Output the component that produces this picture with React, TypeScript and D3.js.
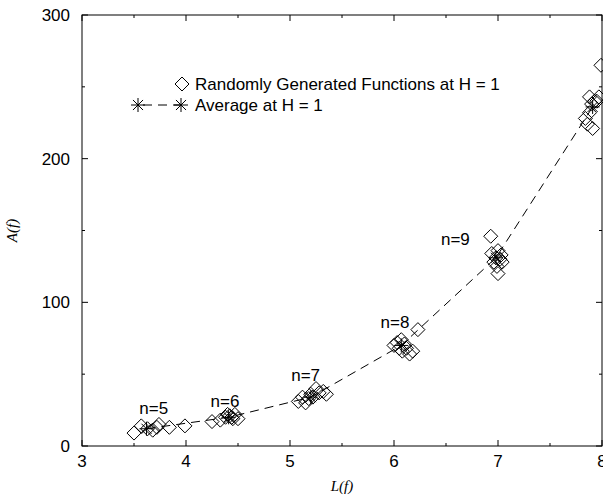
import React from "react";
import * as d3 from "d3";

const xTicks = [3, 4, 5, 6, 7, 8];
const yTicks = [0, 100, 200, 300];
const xMinor = [3.5, 4.5, 5.5, 6.5, 7.5];
const yMinor = [50, 150, 250];

// Randomly generated functions: [L(f), A(f)]
const randomL = [
  3.5, 3.57, 3.63, 3.68, 3.72, 3.74, 3.84, 3.99,
  4.25, 4.33, 4.38, 4.4, 4.42, 4.44, 4.45, 4.47, 4.5,
  5.08, 5.12, 5.15, 5.18, 5.2, 5.22, 5.25, 5.28, 5.32, 5.35,
  6.0, 6.03, 6.05, 6.07, 6.08, 6.1, 6.12, 6.15, 6.18, 6.23,
  6.93, 6.94, 6.96, 6.98, 6.99, 7.0, 7.0, 7.02, 7.03, 7.04,
  7.84, 7.86, 7.88, 7.88, 7.9, 7.91, 7.93, 7.95, 7.97, 7.99,
];
const randomA = [
  9, 14, 12, 11, 13, 15, 13, 14,
  17, 18, 20, 22, 21, 20, 19, 22, 19,
  31, 34, 30, 33, 36, 34, 40, 37, 38, 36,
  70, 72, 68, 74, 66, 71, 68, 64, 66, 81,
  146, 134, 128, 131, 125, 120, 136, 130, 133, 128,
  228, 224, 232, 243, 238, 221, 240, 240, 243, 265,
];

// Averages
const avgL = [3.62, 4.41, 5.2, 6.07, 6.98, 7.91];
const avgA = [12, 20, 34, 70, 131, 236];

const nLabels = ["n=5", "n=6", "n=7", "n=8", "n=9"];
const nLabelL = [3.69, 4.375, 5.15, 6.01, 6.59];
const nLabelA = [22, 27, 45, 82, 140];

const W = 603;
const H = 495;
const left = 82;
const right = 602;
const top = 15;
const bottom = 446;

const font = "'Liberation Sans', Arial, Helvetica, sans-serif";

function Diamond({ x, y, r }: { x: number; y: number; r: number }) {
  return (
    <path
      d={`M${x},${y - r}L${x + r},${y}L${x},${y + r}L${x - r},${y}Z`}
      fill="none"
      stroke="#000"
      strokeWidth={1}
    />
  );
}

function Star({ x, y, r }: { x: number; y: number; r: number }) {
  const d = r * 0.72;
  return (
    <path
      d={`M${x - r},${y}H${x + r}M${x},${y - r}V${y + r}M${x - d},${y - d}L${x + d},${y + d}M${x - d},${y + d}L${x + d},${y - d}`}
      stroke="#000"
      strokeWidth={1}
      fill="none"
    />
  );
}

export default function App() {
  const x = d3.scaleLinear().domain([3, 8]).range([left, right]);
  const y = d3.scaleLinear().domain([0, 300]).range([bottom, top]);
  const line = d3
    .line<number>()
    .x((_, i) => x(avgL[i]))
    .y((_, i) => y(avgA[i]));

  return (
    <svg
      width={W}
      height={H}
      style={{ position: "absolute", left: 0, top: 0, background: "#fff" }}
    >
      <rect x={0} y={0} width={W} height={H} fill="#fff" />
      {/* ticks */}
      {xTicks.map((t) => (
        <g key={"xt" + t}>
          <line x1={x(t)} x2={x(t)} y1={bottom} y2={bottom - 6} stroke="#000" />
          <line x1={x(t)} x2={x(t)} y1={top} y2={top + 6} stroke="#000" />
          <text
            x={x(t)}
            y={bottom + 21}
            textAnchor="middle"
            fontFamily={font}
            fontSize={17}
          >
            {t}
          </text>
        </g>
      ))}
      {xMinor.map((t) => (
        <g key={"xm" + t}>
          <line x1={x(t)} x2={x(t)} y1={bottom} y2={bottom - 3} stroke="#000" />
          <line x1={x(t)} x2={x(t)} y1={top} y2={top + 3} stroke="#000" />
        </g>
      ))}
      {yTicks.map((t) => (
        <g key={"yt" + t}>
          <line x1={left} x2={left + 6} y1={y(t)} y2={y(t)} stroke="#000" />
          <line x1={right} x2={right - 6} y1={y(t)} y2={y(t)} stroke="#000" />
          <text
            x={left - 12}
            y={y(t) + 6}
            textAnchor="end"
            fontFamily={font}
            fontSize={17}
          >
            {t}
          </text>
        </g>
      ))}
      {yMinor.map((t) => (
        <g key={"ym" + t}>
          <line x1={left} x2={left + 3} y1={y(t)} y2={y(t)} stroke="#000" />
          <line x1={right} x2={right - 3} y1={y(t)} y2={y(t)} stroke="#000" />
        </g>
      ))}
      {/* frame */}
      <rect
        x={left}
        y={top}
        width={right - left}
        height={bottom - top}
        fill="none"
        stroke="#000"
        strokeWidth={1}
      />
      {/* axis titles */}
      <text
        transform={`translate(17,${(top + bottom) / 2}) rotate(-90)`}
        textAnchor="middle"
        fontFamily="'Liberation Serif', 'Times New Roman', serif"
        fontStyle="italic"
        fontSize={15}
      >
        A(f)
      </text>
      <text
        x={(left + right) / 2}
        y={491}
        textAnchor="middle"
        fontFamily="'Liberation Serif', 'Times New Roman', serif"
        fontStyle="italic"
        fontSize={15}
      >
        L(f)
      </text>
      {/* average line */}
      <path
        d={line(avgL) || ""}
        fill="none"
        stroke="#000"
        strokeWidth={1}
        strokeDasharray="9,6"
      />
      {/* random points */}
      {randomL.map((l, i) => (
        <Diamond key={"d" + i} x={x(l)} y={y(randomA[i])} r={7} />
      ))}
      {avgL.map((l, i) => (
        <Star key={"s" + i} x={x(l)} y={y(avgA[i])} r={7} />
      ))}
      {/* n labels */}
      {nLabels.map((s, i) => (
        <text
          key={s}
          x={x(nLabelL[i])}
          y={y(nLabelA[i])}
          textAnchor="middle"
          fontFamily={font}
          fontSize={17}
        >
          {s}
        </text>
      ))}
      {/* legend */}
      <Diamond x={182} y={84} r={7} />
      <text x={195} y={90} fontFamily={font} fontSize={17}>
        Randomly Generated Functions at H = 1
      </text>
      <line
        x1={138}
        x2={181}
        y1={105}
        y2={105}
        stroke="#000"
        strokeDasharray="9,6"
        strokeDashoffset={-5}
      />
      <Star x={138} y={105} r={7} />
      <Star x={181} y={105} r={7} />
      <text x={195} y={111} fontFamily={font} fontSize={17}>
        Average at H = 1
      </text>
    </svg>
  );
}
